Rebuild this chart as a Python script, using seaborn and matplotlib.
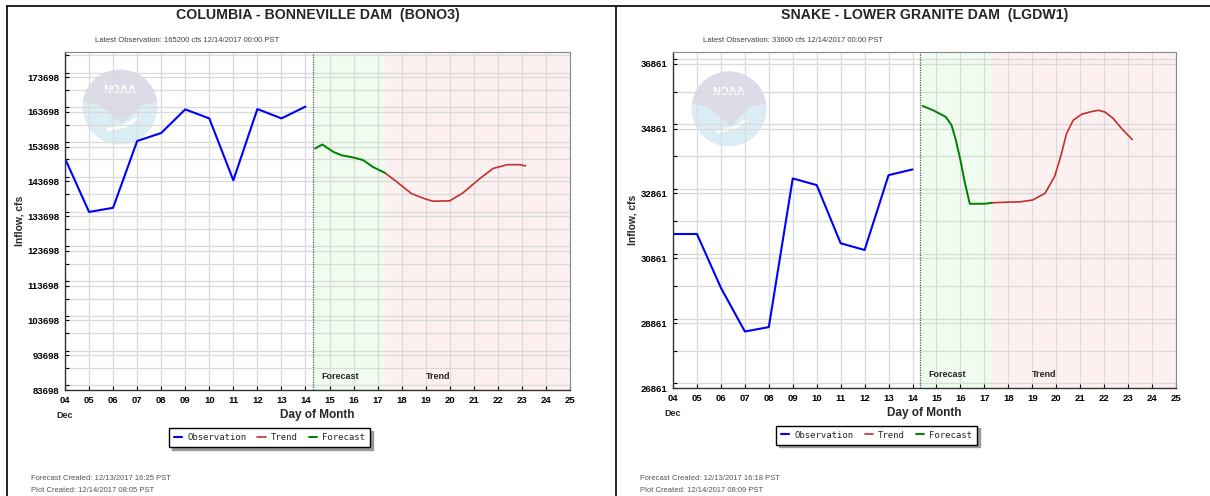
import numpy as np
import pandas as pd
import seaborn as sns
import matplotlib.pyplot as plt
from matplotlib.patches import Circle, Polygon
from matplotlib.lines import Line2D
from matplotlib.ticker import MultipleLocator
from matplotlib.transforms import blended_transform_factory

W, H = 1210, 496

# ---- data ----
obs_days = list(range(4, 15))
day_labels = ["%02d" % d for d in range(4, 26)]

bono_obs = [150300, 134900, 136100, 155300, 157600, 164400, 161800, 144000, 164500, 161800, 165200]
bono_fc_days = [14.4, 14.7, 15.15, 15.5, 16.0, 16.4, 16.8, 17.3]
bono_fc = [153150, 154300, 152200, 151200, 150550, 149800, 147850, 146150]
bono_tr_days = [17.3, 17.8, 18.4, 19.0, 19.3, 20.0, 20.55, 21.25, 21.8, 22.4, 22.9, 23.15]
bono_tr = [146150, 143550, 140200, 138600, 138000, 138100, 140400, 144500, 147400, 148500, 148500, 148150]
bono_yticks = [83698, 93698, 103698, 113698, 123698, 133698, 143698, 153698, 163698, 173698]

lgdw_obs = [31609, 31609, 29950, 28603, 28738, 33323, 33116, 31323, 31116, 33424, 33600]
lgdw_fc_days = [14.42, 14.86, 15.39, 15.63, 15.81, 16.0, 16.19, 16.39, 17.02, 17.32]
lgdw_fc = [35556, 35424, 35218, 34963, 34501, 33886, 33169, 32541, 32541, 32572]
lgdw_tr_days = [17.32, 18.06, 18.48, 19.01, 19.53, 19.94, 20.22, 20.43, 20.71, 21.06,
                21.41, 21.75, 22.03, 22.38, 22.73, 23.17]
lgdw_tr = [32572, 32593, 32600, 32655, 32861, 33393, 34092, 34707, 35116, 35301,
           35372, 35424, 35372, 35169, 34861, 34523]
lgdw_yticks = [26861, 28861, 30861, 32861, 34861, 36861]

panels = [
    dict(title="COLUMBIA - BONNEVILLE DAM  (BONO3)",
         latest="Latest Observation: 165200 cfs 12/14/2017 00:00 PST",
         fc_made="Forecast Created: 12/13/2017 16:25 PST",
         plot_made="Plot Created: 12/14/2017 08:05 PST",
         obs=bono_obs, fc_x=bono_fc_days, fc=bono_fc, tr_x=bono_tr_days, tr=bono_tr,
         yticks=bono_yticks, ystep=5000, ytop=180900,
         box=(65, 52, 570, 390), logo=(120, 107), left=7),
    dict(title="SNAKE - LOWER GRANITE DAM  (LGDW1)",
         latest="Latest Observation: 33600 cfs 12/14/2017 00:00 PST",
         fc_made="Forecast Created: 12/13/2017 16:18 PST",
         plot_made="Plot Created: 12/14/2017 08:09 PST",
         obs=lgdw_obs, fc_x=lgdw_fc_days, fc=lgdw_fc, tr_x=lgdw_tr_days, tr=lgdw_tr,
         yticks=lgdw_yticks, ystep=1000, ytop=37220,
         box=(673, 52, 1176, 388), logo=(729, 109), left=616),
]
now_day = 14.3
fc_end = 17.32

sns.set_style("white")
plt.rcParams['font.family'] = ['Liberation Sans', 'DejaVu Sans']

fig = plt.figure(figsize=(W / 100, H / 100), dpi=100)


def fx(x):
    return x / W


def fy(y):
    return 1 - y / H


# panel frames of the screenshot
fig.add_artist(Line2D([fx(7), 1], [fy(6), fy(6)], color="black", lw=1.2))
fig.add_artist(Line2D([fx(7), fx(7)], [fy(6), 0], color="black", lw=1.2))
fig.add_artist(Line2D([fx(616), fx(616)], [fy(6), 0], color="black", lw=1.2))

for p in panels:
    x0, y0, x1, y1 = p["box"]
    ax = fig.add_axes([fx(x0), fy(y1), (x1 - x0) / W, (y1 - y0) / H])

    ax.axvspan(now_day, fc_end, color="#effcef", lw=0, zorder=0)
    ax.axvspan(fc_end, 25, color="#fdf0f0", lw=0, zorder=0)

    # faded NOAA logo
    lx, ly = p["logo"]
    cx_in, cy_in = lx / 100, (H - ly) / 100
    r = 0.375
    ax.add_patch(Circle((cx_in, cy_in), r, transform=fig.dpi_scale_trans,
                        color="#dbeef6", lw=0, zorder=0.2))
    ang = np.radians(np.linspace(8, 172, 40))
    pts = [(cx_in + r * np.cos(a), cy_in + r * np.sin(a)) for a in ang]
    pts += [(cx_in - 0.55 * r, cy_in + 0.05 * r), (cx_in + 0.05 * r, cy_in - 0.45 * r),
            (cx_in + 0.55 * r, cy_in + 0.05 * r)]
    ax.add_patch(Polygon(pts, closed=True, transform=fig.dpi_scale_trans,
                         color="#dcdce8", lw=0, zorder=0.3))
    ax.add_line(Line2D([cx_in - 0.3 * r, cx_in + 0.15 * r, cx_in + 0.45 * r],
                       [cy_in - 0.6 * r, cy_in - 0.5 * r, cy_in - 0.3 * r],
                       transform=fig.dpi_scale_trans, color="white", lw=2.5,
                       zorder=0.35))
    ax.text(cx_in, cy_in + 0.45 * r, "NOAA", transform=fig.dpi_scale_trans,
            ha="center", va="center", color="white", fontsize=8, fontweight="bold",
            zorder=0.4)

    sns.lineplot(x=obs_days, y=p["obs"], ax=ax, color="#0000ff", lw=1.5,
                 label="Observation", estimator=None, sort=False)
    sns.lineplot(x=p["tr_x"], y=p["tr"], ax=ax, color="#c0302c", lw=1.2,
                 label="Trend", estimator=None, sort=False)
    sns.lineplot(x=p["fc_x"], y=p["fc"], ax=ax, color="#008000", lw=1.4,
                 label="Forecast", estimator=None, sort=False)
    ax.axvline(now_day, color="#555555", ls=(0, (1, 1)), lw=0.9)

    ax.set_xlim(4, 25)
    ax.set_ylim(p["yticks"][0], p["ytop"])
    ax.set_xticks(range(4, 26))
    ax.set_xticklabels(day_labels)
    ax.set_yticks(p["yticks"])
    ax.set_yticklabels([str(v) for v in p["yticks"]])
    ax.yaxis.set_minor_locator(MultipleLocator(p["ystep"]))
    ax.grid(True, which="both", color="#dadada", lw=0.9)
    ax.tick_params(axis="both", which="both", direction="in", length=3, width=0.8,
                   labelsize=6.8, pad=4, left=True, bottom=True, colors="black")
    for lab in ax.get_xticklabels() + ax.get_yticklabels():
        lab.set_fontweight("bold")
    for side in ["top", "right"]:
        ax.spines[side].set_color("#888888")
        ax.spines[side].set_linewidth(0.8)
    for side in ["left", "bottom"]:
        ax.spines[side].set_color("#333333")
        ax.spines[side].set_linewidth(1.0)

    ax.set_xlabel("Day of Month", fontsize=8.5, fontweight="bold", labelpad=3)
    ax.set_ylabel("Inflow, cfs", fontsize=7.5, fontweight="bold", labelpad=2)
    ax.text(0, -0.062, "Dec", transform=ax.transAxes, ha="center", va="top",
            fontsize=6.5, fontweight="bold")

    tr_blend = blended_transform_factory(ax.transData, ax.transAxes)
    ax.text(14.65, 0.04, "Forecast", transform=tr_blend, fontsize=6.5,
            fontweight="bold", va="center")
    ax.text(19.0, 0.04, "Trend", transform=tr_blend, fontsize=6.5,
            fontweight="bold", va="center")

    handles, labels = ax.get_legend_handles_labels()
    order = [labels.index(k) for k in ["Observation", "Trend", "Forecast"]]
    ax.legend([handles[i] for i in order], [labels[i] for i in order],
              loc="center", bbox_to_anchor=(0.405, -0.14), ncol=3, frameon=True,
              fancybox=False, shadow={"color": "#999999", "alpha": 1},
              edgecolor="black", framealpha=1,
              prop={"family": "DejaVu Sans Mono", "size": 6.5},
              handlelength=0.9, handletextpad=0.6, columnspacing=1.2,
              borderpad=0.55)

    cx = (x0 + x1) / 2
    fig.text(fx(cx), fy(15), p["title"], ha="center", va="center",
             fontsize=10.2, fontweight="bold")
    fig.text(fx(x0 + 30), fy(40), p["latest"], ha="left", va="center",
             fontsize=5.5, color="#444444")
    fig.text(fx(p["left"] + 24), fy(479), p["fc_made"], ha="left", va="center",
             fontsize=5.5, color="#555555")
    fig.text(fx(p["left"] + 24), fy(491), p["plot_made"], ha="left", va="center",
             fontsize=5.5, color="#555555")

fig.savefig("out.png", dpi=100)
